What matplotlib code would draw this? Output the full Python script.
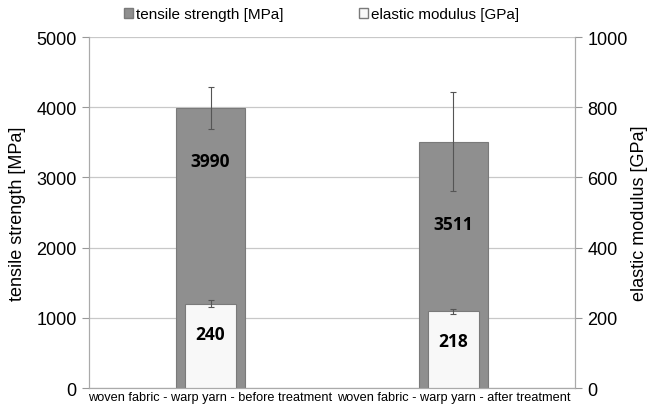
import numpy as np
import matplotlib
matplotlib.use("Agg")
import matplotlib.pyplot as plt
from matplotlib.patches import Patch

plt.rcParams['font.family'] = ['Liberation Sans', 'DejaVu Sans']

categories = ['woven fabric - warp yarn - before treatment',
              'woven fabric - warp yarn - after treatment']
tensile = [3990, 3511]
tensile_err = [300, 700]
modulus = [240, 218]
modulus_err = [10, 8]

x = np.arange(len(categories))

fig = plt.figure(figsize=(6.47, 4.10), dpi=100)
ax = fig.add_axes([0.1376, 0.0512, 0.7511, 0.8561])
ax2 = ax.twinx()

grey = '#8f8f8f'
ax.bar(x, tensile, width=0.285, color=grey, edgecolor='#7a7a7a', linewidth=0.8,
       zorder=2)
ax.errorbar(x, tensile, yerr=tensile_err, fmt='none', ecolor='#555555',
            elinewidth=0.8, capsize=2.5, capthick=0.8, zorder=3)

ax2.bar(x, modulus, width=0.21, color='#f8f8f8', edgecolor='#7a7a7a', linewidth=0.8,
        zorder=2)
ax2.errorbar(x, modulus, yerr=modulus_err, fmt='none', ecolor='#555555',
             elinewidth=0.8, capsize=2.5, capthick=0.8, zorder=3)

# label placement (as in the original layout)
t_off = [756, 1175]
m_frac = [0.64, 0.61]
for xi, v, o in zip(x, tensile, t_off):
    ax.text(xi, v - o, str(v), ha='center', va='center', fontsize=12.5,
            fontweight='bold', family='Open Sans', zorder=5)
for xi, v, f in zip(x, modulus, m_frac):
    ax2.text(xi, v * f, str(v), ha='center', va='center', fontsize=12.5,
             fontweight='bold', family='Open Sans', zorder=5)

ax.set_xlim(-0.5, 1.5)
ax.set_ylim(0, 5000)
ax2.set_ylim(0, 1000)
ax.set_yticks(np.arange(0, 5001, 1000))
ax2.set_yticks(np.arange(0, 1001, 200))
ax.set_xticks(x)
ax.set_xticklabels(categories, fontsize=9.2)
ax.tick_params(axis='x', length=0, pad=2)
ax.tick_params(axis='y', labelsize=13, color='#999999', length=5, pad=4)
ax2.tick_params(axis='y', labelsize=13, color='#999999', length=5, pad=4)
ax.set_ylabel('tensile strength [MPa]', fontsize=13, labelpad=7)
ax2.set_ylabel('elastic modulus [GPa]', fontsize=13, labelpad=2)

ax.yaxis.grid(True, color='#c8c8c8', linewidth=0.9, zorder=0)
ax.set_axisbelow(True)
for a in (ax, ax2):
    a.spines['top'].set_visible(False)
    for s in ('left', 'right', 'bottom'):
        a.spines[s].set_color('#aaaaaa')

handles = [Patch(facecolor=grey, edgecolor='#7a7a7a'),
           Patch(facecolor='#f8f8f8', edgecolor='#7a7a7a')]
fig.legend(handles, ['tensile strength [MPa]', 'elastic modulus [GPa]'],
           loc='center', bbox_to_anchor=(0.497, 0.963), ncol=2, frameon=False,
           fontsize=11, handlelength=0.6, handleheight=0.6, handletextpad=0.2,
           columnspacing=4.9, borderpad=0)

fig.savefig('out.png', dpi=100)
